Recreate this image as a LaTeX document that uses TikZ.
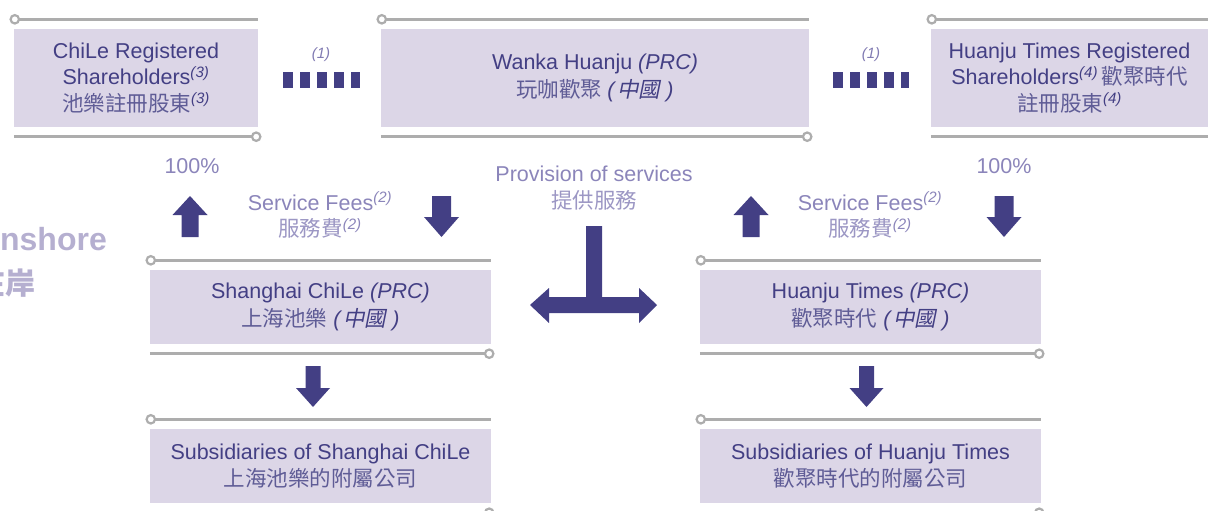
\documentclass[tikz,border=0pt]{standalone}
\usepackage{fontspec}
\setmainfont{Liberation Sans}
\newfontfamily\cjk{Noto Sans CJK TC}
\newfontfamily\cjkit[FakeSlant=0.2]{Noto Sans CJK TC}
\definecolor{boxfill}{HTML}{DCD6E7}
\definecolor{darktxt}{HTML}{433F84}
\definecolor{lighttxt}{HTML}{8B85BA}
\definecolor{onshorec}{HTML}{B5AFD0}
\definecolor{railc}{HTML}{ADADAD}
\newcommand\zh[1]{{\cjk\color{.!85!white}#1}}
\newcommand\prc{\textit{(}\kern1pt{\cjkit 中國}\textit{\kern6pt)}}
\newcommand\rails[1]{%
  \draw[rail] ([yshift=9.5pt]#1.north west) -- ([yshift=9.5pt]#1.north east);
  \draw[ring] ([xshift=1pt,yshift=9.5pt]#1.north west) circle[radius=4.2pt];
  \draw[rail] ([yshift=-9.5pt]#1.south west) -- ([yshift=-9.5pt]#1.south east);
  \draw[ring] ([xshift=-2pt,yshift=-9.5pt]#1.south east) circle[radius=4.2pt];}
\tikzset{
  every node/.style={font=\fontsize{21.5}{26.5}\selectfont},
  box/.style={fill=boxfill, draw=none, inner sep=0pt, align=center, text=darktxt},
  rail/.style={draw=railc, line width=3pt},
  ring/.style={draw=railc, fill=white, line width=2.2pt},
  dashbar/.style={draw=darktxt, line width=16pt, dash pattern=on 9.5pt off 7.5pt},
  lbl/.style={text=lighttxt, align=center, inner sep=0pt},
  small/.style={text=lighttxt!85!darktxt, inner sep=0pt, font=\fontsize{15}{18}\selectfont\itshape},
  arr/.style={fill=darktxt, draw=none},
  onshore/.style={text=onshorec, inner sep=0pt, font=\fontsize{32}{36}\selectfont\bfseries},
}
\newcommand\supn[1]{\textsuperscript{\itshape(#1)}}
\begin{document}
\begin{tikzpicture}[x=1pt,y=-1pt]
\useasboundingbox (0,0) rectangle (1208,511);

% boxes
\node[box, minimum width=244pt, minimum height=98pt] (chile) at (136,78)
  {ChiLe Registered\\Shareholders\supn{3}\\\zh{池樂註冊股東}\supn{3}};
\node[box, minimum width=428pt, minimum height=98pt] (wanka) at (595,78)
  {Wanka Huanju \textit{(PRC)}\\[1.5pt]\zh{玩咖歡聚}\kern5pt\prc};
\node[box, minimum width=277pt, minimum height=98pt] (htreg) at (1069.5,78)
  {Huanju Times Registered\\Shareholders\supn{4}\,\zh{歡聚時代}\\\zh{註冊股東}\supn{4}};
\node[box, minimum width=341pt, minimum height=74pt] (shc) at (320.5,307)
  {Shanghai ChiLe \textit{(PRC)}\\[1.5pt]\zh{上海池樂}\kern6pt\prc};
\node[box, minimum width=341pt, minimum height=74pt] (hjt) at (870.5,307)
  {Huanju Times \textit{(PRC)}\\[1.5pt]\zh{歡聚時代}\kern6pt\prc};
\node[box, minimum width=341pt, minimum height=74pt] (subshc) at (320.5,466)
  {Subsidiaries of Shanghai ChiLe\\[1pt]\zh{上海池樂的附屬公司}};
\node[box, minimum width=341pt, minimum height=74pt] (subhjt) at (870.5,466)
  {Subsidiaries of Huanju Times\\[1pt]\zh{歡聚時代的附屬公司}};

\rails{chile}\rails{wanka}\rails{shc}\rails{hjt}\rails{subshc}\rails{subhjt}
% rails of the right-hand box run off the page
\draw[rail] ([yshift=9.5pt]htreg.north west) -- ++(300,0);
\draw[ring] ([xshift=1pt,yshift=9.5pt]htreg.north west) circle[radius=4.2pt];
\draw[rail] ([yshift=-9.5pt]htreg.south west) -- ++(300,0);

% dashed contractual connectors
\draw[dashbar, shorten <=25pt, shorten >=21pt] ([yshift=-2pt]chile.east) -- ([yshift=-2pt]wanka.west);
\draw[dashbar, shorten <=24pt, shorten >=22pt] ([yshift=-2pt]wanka.east) -- ([yshift=-2pt]htreg.west);
\node[small] (n1a) at (321,55) {(1)};
\node[small] (n1b) at (871,55) {(1)};

% labels
\node[lbl] (pctl) at (192,166) {100\%};
\node[lbl] (pctr) at (1004,166) {100\%};
\node[lbl] (sfl) at (320,215) {Service Fees\supn{2}\\\zh{服務費}\supn{2}};
\node[lbl] (sfr) at (870,215) {Service Fees\supn{2}\\\zh{服務費}\supn{2}};
\node[lbl] (prov) at (594,188) {Provision of services\\\zh{提供服務}};

% onshore label (cut off at the left edge, as in the reference)
\node[onshore, anchor=base east] (onen) at (107,250) {Onshore};
\node[onshore, anchor=base east, font=\fontsize{30}{36}\selectfont] (oncn) at (36,294) {\cjk\bfseries 在岸};

% up arrows
\foreach \x in {190,751}{
  \fill[arr, shift={(\x,196)}] (0,0) -- (17.5,19) -- (8.5,19) -- (8.5,41) -- (-8.5,41) -- (-8.5,19) -- (-17.5,19) -- cycle;}
% down arrows
\foreach \x in {441.5,1004}{
  \fill[arr, shift={(\x,196)}] (-9.5,0) -- (9.5,0) -- (9.5,21) -- (17.5,21) -- (0,41) -- (-17.5,21) -- (-9.5,21) -- cycle;}
\foreach \x in {313,866.5}{
  \fill[arr, shift={(\x,366)}] (-7.5,0) -- (7.5,0) -- (7.5,22) -- (17,22) -- (0,41) -- (-17,22) -- (-7.5,22) -- cycle;}

% T-shaped provision arrow
\fill[arr] (586,226) -- (602,226) -- (602,297) -- (639,297) -- (639,288) -- (657,305) -- (639,323) -- (639,313)
  -- (549,313) -- (549,323) -- (530,305) -- (549,288) -- (549,297) -- (586,297) -- cycle;
\end{tikzpicture}
\end{document}
